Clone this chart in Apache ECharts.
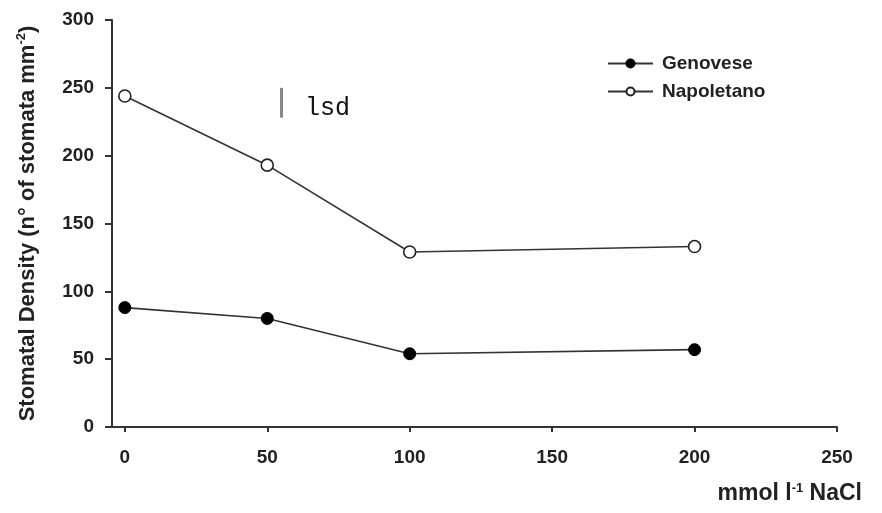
<!DOCTYPE html>
<html>
<head>
<meta charset="utf-8">
<script src="https://cdn.jsdelivr.net/npm/echarts@6/dist/echarts.min.js"></script>
<style>
  html, body { margin: 0; padding: 0; background: #fff; }
  #main { width: 882px; height: 513px; }
</style>
</head>
<body>
<div id="main"></div>
<script>
var nacl = [0, 50, 100, 200];
var genovese = [88, 80, 54, 57];
var napoletano = [244, 193, 129, 133];
var xTicks = [0, 50, 100, 150, 200, 250];
var lsdX = 55;
var lsdRange = [228, 250];

var chart = echarts.init(document.getElementById('main'));

function pairs(xs, ys) {
  var out = [];
  for (var i = 0; i < xs.length; i++) {
    out.push([xs[i], ys[i]]);
  }
  return out;
}

var fontBold = {
  fontFamily: 'Liberation Sans, Arial, sans-serif',
  fontWeight: 'bold',
  color: '#222'
};

var option = {
  backgroundColor: '#fff',
  animation: false,
  grid: {
    left: 112,
    right: 45,
    top: 20,
    bottom: 86
  },
  legend: {
    orient: 'vertical',
    left: 602,
    top: 49,
    itemWidth: 45,
    itemHeight: 10,
    itemGap: 9,
    textStyle: Object.assign({ fontSize: 19, padding: [0, 0, 0, 4] }, fontBold),
    data: ['Genovese', 'Napoletano']
  },
  xAxis: {
    type: 'value',
    min: -4.5,
    max: 250,
    name: 'mmol l{s|-1} NaCl',
    nameLocation: 'end',
    nameGap: 25,
    nameTextStyle: Object.assign({
      fontSize: 23,
      align: 'right',
      verticalAlign: 'top',
      padding: [55, 0, 0, 0],
      rich: {
        s: { fontSize: 13, fontWeight: 'bold', verticalAlign: 'top', padding: [0, 0, 10, 0], fontFamily: 'Liberation Sans, Arial, sans-serif', color: '#222' }
      }
    }, fontBold),
    splitLine: { show: false },
    axisLine: { onZero: false, lineStyle: { color: '#333', width: 2 } },
    axisTick: { customValues: xTicks, length: 5, lineStyle: { color: '#333', width: 2 } },
    axisLabel: Object.assign({ customValues: xTicks, fontSize: 19, margin: 21 }, fontBold)
  },
  yAxis: {
    type: 'value',
    min: 0,
    max: 300,
    interval: 50,
    name: '{a|Stomatal Density (n° of stomata mm}{s|-2}{a|)}',
    nameLocation: 'middle',
    nameGap: 72,
    nameTextStyle: {
      rich: {
        a: Object.assign({ fontSize: 22 }, fontBold),
        s: Object.assign({ fontSize: 13, verticalAlign: 'top', padding: [0, 0, 12, 0] }, fontBold)
      }
    },
    splitLine: { show: false },
    axisLine: { show: true, onZero: false, lineStyle: { color: '#333', width: 2 } },
    axisTick: { length: 7, lineStyle: { color: '#333', width: 2 } },
    axisLabel: Object.assign({ fontSize: 19, margin: 18 }, fontBold)
  },
  series: [
    {
      name: 'Genovese',
      type: 'line',
      data: pairs(nacl, genovese),
      symbol: 'circle',
      symbolSize: 12,
      lineStyle: { color: '#333', width: 1.6 },
      itemStyle: { color: '#000', borderColor: '#000', borderWidth: 1 }
    },
    {
      name: 'Napoletano',
      type: 'line',
      data: pairs(nacl, napoletano),
      symbol: 'circle',
      symbolSize: 12,
      lineStyle: { color: '#333', width: 1.6 },
      itemStyle: { color: '#fff', borderColor: '#222', borderWidth: 1.6 },
      markLine: {
        silent: true,
        symbol: 'none',
        lineStyle: { color: '#888', width: 3, type: 'solid' },
        label: {
          show: true,
          position: 'end',
          formatter: 'lsd',
          fontFamily: 'Liberation Mono, Courier New, monospace',
          fontSize: 25,
          color: '#111',
          offset: [46, 38]
        },
        data: [[
          { coord: [lsdX, lsdRange[0]] },
          { coord: [lsdX, lsdRange[1]] }
        ]]
      }
    }
  ]
};

chart.setOption(option);
</script>
</body>
</html>
